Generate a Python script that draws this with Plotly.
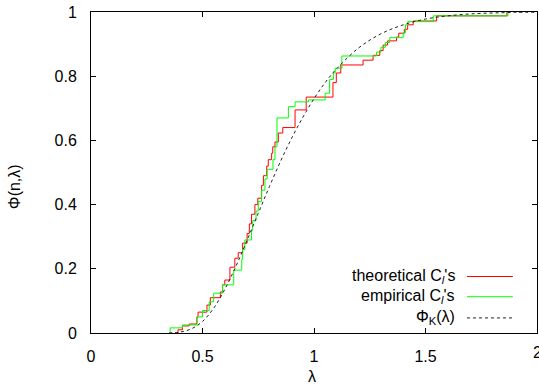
import plotly.graph_objects as go

# Theoretical C_l's (red step curve): breakpoints (lambda, Phi)
theo_lam = [0.39, 0.39, 0.41, 0.44, 0.475, 0.48, 0.52, 0.535, 0.58, 0.59, 0.60, 0.623,
            0.645, 0.66, 0.68, 0.70, 0.71, 0.72, 0.735, 0.748, 0.765, 0.773, 0.788,
            0.795, 0.81, 0.815, 0.825, 0.84, 0.86, 0.915, 0.965, 1.085, 1.10, 1.12,
            1.22, 1.265, 1.295, 1.31, 1.33, 1.37, 1.38, 1.405, 1.42, 1.445, 1.55, 1.865]
theo_phi = [0.0, 0.01, 0.022, 0.028, 0.05, 0.065, 0.087, 0.11, 0.128, 0.15, 0.165, 0.205,
            0.233, 0.25, 0.28, 0.31, 0.34, 0.37, 0.40, 0.42, 0.46, 0.49, 0.52,
            0.54, 0.56, 0.58, 0.595, 0.623, 0.64, 0.695, 0.735, 0.78, 0.81, 0.835,
            0.85, 0.865, 0.88, 0.897, 0.91, 0.922, 0.934, 0.946, 0.96, 0.972, 0.988, 1.0]

# Empirical C_l's (green step curve)
emp_lam = [0.355, 0.355, 0.41, 0.475, 0.50, 0.53, 0.55, 0.59, 0.64, 0.676, 0.68, 0.69,
           0.72, 0.725, 0.74, 0.75, 0.765, 0.78, 0.79, 0.816, 0.825, 0.834, 0.885,
           0.915, 0.975, 1.05, 1.07, 1.087, 1.095, 1.125, 1.28, 1.30, 1.32, 1.34,
           1.40, 1.41, 1.42, 1.535, 1.87]
emp_phi = [0.0, 0.016, 0.025, 0.05, 0.07, 0.097, 0.124, 0.15, 0.196, 0.23, 0.26, 0.29,
           0.32, 0.35, 0.38, 0.41, 0.445, 0.48, 0.51, 0.54, 0.58, 0.67, 0.705,
           0.72, 0.726, 0.747, 0.79, 0.81, 0.825, 0.863, 0.875, 0.89, 0.905, 0.92,
           0.935, 0.96, 0.97, 0.988, 1.0]

# Kolmogorov distribution Phi_K(lambda)
k_lam = [0.35, 0.40, 0.45, 0.50, 0.55, 0.60, 0.65, 0.70, 0.75, 0.80, 0.85, 0.90, 0.95,
         1.00, 1.05, 1.10, 1.20, 1.30, 1.40, 1.50, 1.60, 1.70, 1.80, 1.90, 2.00]
k_phi = [0.0003, 0.003, 0.013, 0.036, 0.077, 0.136, 0.208, 0.289, 0.373, 0.456, 0.535,
         0.607, 0.672, 0.730, 0.780, 0.822, 0.888, 0.932, 0.960, 0.978, 0.988, 0.994,
         0.997, 0.9985, 0.9993]

x_ticks = [0, 0.5, 1, 1.5, 2]
x_ticklabels = ["0", "0.5", "1", "1.5", "2"]
y_ticks = [0, 0.2, 0.4, 0.6, 0.8, 1]
y_ticklabels = ["0", "0.2", "0.4", "0.6", "0.8", "1"]

FONT = "Liberation Sans"
FS = 16

fig = go.Figure()
fig.add_trace(go.Scatter(x=theo_lam, y=theo_phi, mode="lines", line_shape="hv",
                         line=dict(color="#ff0000", width=1), showlegend=False))
fig.add_trace(go.Scatter(x=emp_lam, y=emp_phi, mode="lines", line_shape="hv",
                         line=dict(color="#00ff00", width=1), showlegend=False))
fig.add_trace(go.Scatter(x=k_lam, y=k_phi, mode="lines", line_shape="spline",
                         line=dict(color="#222222", width=1, dash="3px,3px"),
                         showlegend=False))

axis_common = dict(showline=True, linecolor="black", linewidth=1, mirror="ticks",
                   ticks="inside", ticklen=5, tickcolor="black", showgrid=False,
                   zeroline=False, tickfont=dict(family=FONT, size=FS, color="black"))

fig.update_xaxes(range=[0, 2], tickvals=x_ticks[:-1], ticktext=x_ticklabels[:-1],
                 ticklabelstandoff=9, **axis_common)
fig.update_yaxes(range=[0, 1], tickvals=y_ticks, ticktext=y_ticklabels,
                 ticklabelstandoff=10, **axis_common)

annotations = []
shapes = []
# last x tick label (would be dropped at the right edge by plotly)
annotations.append(dict(x=x_ticks[-1], y=0, xref="x", yref="paper", text=x_ticklabels[-1],
                        showarrow=False, xanchor="center", yanchor="top", yshift=-9,
                        font=dict(family=FONT, size=FS, color="black")))
# tick mark at x=2 bottom/top (for the last label)
# Legend (text right, sample line right of text), in paper coordinates
leg_rows = [("theoretical C<sub><i>l</i></sub>'s", "#ff0000", "solid", 0.176),
            ("empirical C<sub><i>l</i></sub>'s", "#00ff00", "solid", 0.113),
            ("Φ<sub>K</sub>(λ)", "#222222", "3px,3px", 0.047)]
for txt, col, dash, yy in leg_rows:
    annotations.append(dict(x=0.8206, y=yy, xref="paper", yref="paper", text=txt,
                            showarrow=False, xanchor="right", yanchor="middle",
                            font=dict(family=FONT, size=FS, color="black")))
    shapes.append(dict(type="line", xref="paper", yref="paper", x0=0.843, x1=0.946,
                       y0=yy, y1=yy, line=dict(color=col, width=1, dash=dash)))

annotations.append(dict(x=-0.17, y=0.455, xref="paper", yref="paper", text="Φ(n,λ)",
                        showarrow=False, textangle=-90, xanchor="center", yanchor="middle",
                        font=dict(family=FONT, size=FS, color="black")))
annotations.append(dict(x=0.496, y=-0.134, xref="paper", yref="paper", text="λ",
                        showarrow=False, xanchor="center", yanchor="middle",
                        font=dict(family=FONT, size=FS, color="black")))

fig.update_layout(width=539, height=385, margin=dict(l=91, r=2, t=12, b=52),
                  plot_bgcolor="white", paper_bgcolor="white",
                  annotations=annotations, shapes=shapes, showlegend=False)

fig.write_html("out.html")
